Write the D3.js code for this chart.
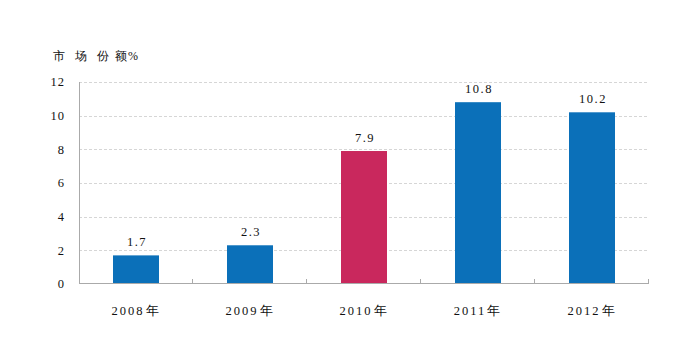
<!DOCTYPE html>
<html>
<head>
<meta charset="utf-8">
<script src="https://cdn.jsdelivr.net/npm/d3@7"></script>
<style>
  body { margin: 0; background: #fff; }
  svg text { font-family: "Liberation Serif", "DejaVu Serif", serif; fill: #111; }
</style>
</head>
<body>
<div id="chart"></div>
<script>
const years = ["2008", "2009", "2010", "2011", "2012"];
const shares = [1.7, 2.3, 7.9, 10.8, 10.2];
const highlightYear = "2010";
const yTicks = [0, 2, 4, 6, 8, 10, 12];
const titleChars = ["市", "场", "份", "额", "%"];

const W = 700, H = 354;
const margin = { top: 82, right: 51, bottom: 70, left: 79 };
const width = W - margin.left - margin.right;
const height = H - margin.top - margin.bottom;

const svg = d3.select("#chart").append("svg")
    .attr("width", W)
    .attr("height", H);

const g = svg.append("g")
    .attr("transform", `translate(${margin.left}, ${margin.top})`);

const x = d3.scaleBand()
    .domain(years)
    .range([0, width])
    .paddingInner(0)
    .paddingOuter(0);

const y = d3.scaleLinear()
    .domain([0, 12])
    .range([height, 0]);

// Grid lines
g.selectAll(".grid")
    .data(yTicks.filter(d => d > 0))
    .enter()
    .append("line")
    .attr("x1", 0)
    .attr("x2", width)
    .attr("y1", d => Math.round(y(d)) + 0.5)
    .attr("y2", d => Math.round(y(d)) + 0.5)
    .attr("stroke", "#d6d6d6")
    .attr("stroke-dasharray", "3,2");

// Bars
const barW = 46;
const rows = years.map((yr, i) => ({ year: yr, value: shares[i] }));
g.selectAll(".bar")
    .data(rows)
    .enter()
    .append("rect")
    .attr("x", d => x(d.year) + x.bandwidth() / 2 - barW / 2)
    .attr("y", d => y(d.value))
    .attr("width", barW)
    .attr("height", d => height - y(d.value))
    .attr("fill", d => d.year === highlightYear ? "#c9285d" : "#0b70b9");

// Value labels
g.selectAll(".val")
    .data(rows)
    .enter()
    .append("text")
    .attr("x", d => x(d.year) + x.bandwidth() / 2 + 1)
    .attr("y", d => y(d.value) - 9)
    .attr("text-anchor", "middle")
    .style("font-size", "12.5px")
    .style("letter-spacing", "1.5px")
    .text(d => d.value.toFixed(1));

// Axes lines
g.append("line")
    .attr("x1", 0.5).attr("x2", 0.5)
    .attr("y1", 0).attr("y2", height)
    .attr("stroke", "#aaa");
g.append("line")
    .attr("x1", 0).attr("x2", width)
    .attr("y1", height - 0.5).attr("y2", height - 0.5)
    .attr("stroke", "#aaa");

// Category tick marks (pointing up)
g.selectAll(".tick-mark")
    .data(years.slice(1).map(d => x(d)).concat([width]))
    .enter()
    .append("line")
    .attr("x1", d => Math.round(d) - 0.5)
    .attr("x2", d => Math.round(d) - 0.5)
    .attr("y1", height - 5)
    .attr("y2", height)
    .attr("stroke", "#aaa");

// Y labels
g.selectAll(".ylab")
    .data(yTicks)
    .enter()
    .append("text")
    .attr("x", -14)
    .attr("y", d => y(d))
    .attr("dy", "0.35em")
    .attr("text-anchor", "end")
    .style("font-size", "12.5px")
    .style("letter-spacing", "1px")
    .text(d => d);

// X labels
const xl = g.selectAll(".xlab")
    .data(years)
    .enter()
    .append("text")
    .attr("x", d => x(d) + x.bandwidth() / 2)
    .attr("y", height + 31)
    .attr("text-anchor", "middle")
    .style("font-size", "12.5px")
    .style("letter-spacing", "2px");
xl.append("tspan").text(d => d);
xl.append("tspan").attr("dx", 1).text("年");

// Axis title
const title = svg.append("text")
    .attr("y", 60)
    .style("font-size", "12px");
title.selectAll("tspan")
    .data(titleChars)
    .enter()
    .append("tspan")
    .attr("x", (d, i) => [53, 75, 97, 115, 128][i])
    .text(d => d);
</script>
</body>
</html>
